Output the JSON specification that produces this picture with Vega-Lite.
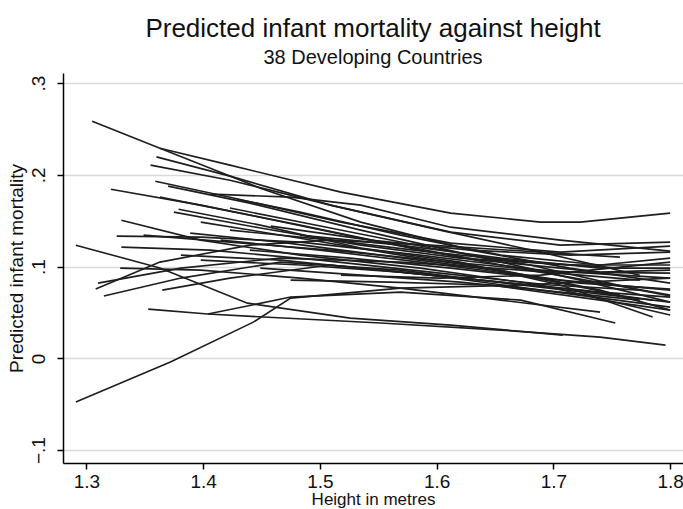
{
"$schema": "https://vega.github.io/schema/vega-lite/v6.json",
"width": 620, "height": 390,
"autosize": "none",
"padding": {"left": 63, "top": 73, "right": 0, "bottom": 46},
"background": "white",
"config": {"view": {"stroke": null}, "font": "Liberation Sans"},
"title": {"text": "Predicted infant mortality against height", "subtitle": "38 Developing Countries", "font": "Liberation Sans", "subtitleFont": "Liberation Sans", "fontSize": 26, "subtitleFontSize": 20, "fontWeight": "normal", "color": "#111", "subtitleColor": "#111", "anchor": "middle", "offset": 5, "subtitlePadding": 6},
"data": {"values": [
{"c":1,"h":1.305,"m":0.2585},{"c":1,"h":1.363,"m":0.2291},{"c":1,"h":1.449,"m":0.1855},{"c":1,"h":1.535,"m":0.1485},{"c":1,"h":1.629,"m":0.118},{"c":1,"h":1.714,"m":0.0984},{"c":1,"h":1.8,"m":0.082},
{"c":2,"h":1.363,"m":0.2291},{"c":2,"h":1.423,"m":0.2106},{"c":2,"h":1.518,"m":0.1812},{"c":2,"h":1.612,"m":0.1583},{"c":2,"h":1.689,"m":0.1485},{"c":2,"h":1.723,"m":0.1485},{"c":2,"h":1.8,"m":0.1583},
{"c":3,"h":1.36,"m":0.2196},{"c":3,"h":1.423,"m":0.1986},{"c":3,"h":1.509,"m":0.167},{"c":3,"h":1.612,"m":0.1376},{"c":3,"h":1.706,"m":0.1234},{"c":3,"h":1.8,"m":0.1267},
{"c":4,"h":1.359,"m":0.1931},{"c":4,"h":1.423,"m":0.1757},{"c":4,"h":1.518,"m":0.1485},{"c":4,"h":1.612,"m":0.1256},{"c":4,"h":1.706,"m":0.1158},{"c":4,"h":1.8,"m":0.1223},
{"c":5,"h":1.321,"m":0.1844},{"c":5,"h":1.398,"m":0.167},{"c":5,"h":1.483,"m":0.1452},{"c":5,"h":1.586,"m":0.118},{"c":5,"h":1.689,"m":0.094},{"c":5,"h":1.8,"m":0.069},
{"c":6,"h":1.37,"m":0.1877},{"c":6,"h":1.44,"m":0.1692},{"c":6,"h":1.535,"m":0.1398},{"c":6,"h":1.629,"m":0.1125},{"c":6,"h":1.723,"m":0.0853},{"c":6,"h":1.8,"m":0.0613},
{"c":7,"h":1.363,"m":0.1757},{"c":7,"h":1.44,"m":0.1561},{"c":7,"h":1.535,"m":0.131},{"c":7,"h":1.637,"m":0.1071},{"c":7,"h":1.74,"m":0.094},{"c":7,"h":1.8,"m":0.0962},
{"c":8,"h":1.407,"m":0.179},{"c":8,"h":1.475,"m":0.1757},{"c":8,"h":1.535,"m":0.167},{"c":8,"h":1.612,"m":0.143},{"c":8,"h":1.706,"m":0.1289},{"c":8,"h":1.8,"m":0.1169},
{"c":9,"h":1.379,"m":0.1626},{"c":9,"h":1.449,"m":0.1452},{"c":9,"h":1.535,"m":0.1202},{"c":9,"h":1.62,"m":0.1049},{"c":9,"h":1.706,"m":0.0799},{"c":9,"h":1.785,"m":0.045},
{"c":10,"h":1.375,"m":0.1594},{"c":10,"h":1.449,"m":0.142},{"c":10,"h":1.535,"m":0.1234},{"c":10,"h":1.62,"m":0.1093},{"c":10,"h":1.714,"m":0.1017},{"c":10,"h":1.8,"m":0.1017},
{"c":11,"h":1.33,"m":0.1506},{"c":11,"h":1.398,"m":0.1289},{"c":11,"h":1.483,"m":0.1125},{"c":11,"h":1.586,"m":0.0984},{"c":11,"h":1.689,"m":0.0799},{"c":11,"h":1.8,"m":0.0472},
{"c":12,"h":1.326,"m":0.1332},{"c":12,"h":1.398,"m":0.1321},{"c":12,"h":1.483,"m":0.1267},{"c":12,"h":1.586,"m":0.1125},{"c":12,"h":1.689,"m":0.0962},{"c":12,"h":1.8,"m":0.0875},
{"c":13,"h":1.389,"m":0.1365},{"c":13,"h":1.466,"m":0.1267},{"c":13,"h":1.552,"m":0.1125},{"c":13,"h":1.637,"m":0.0984},{"c":13,"h":1.723,"m":0.082},{"c":13,"h":1.8,"m":0.0755},
{"c":14,"h":1.33,"m":0.1212},{"c":14,"h":1.406,"m":0.118},{"c":14,"h":1.5,"m":0.1071},{"c":14,"h":1.595,"m":0.094},{"c":14,"h":1.697,"m":0.0799},{"c":14,"h":1.774,"m":0.0744},
{"c":15,"h":1.291,"m":0.1234},{"c":15,"h":1.363,"m":0.0984},{"c":15,"h":1.438,"m":0.0602},{"c":15,"h":1.526,"m":0.0439},{"c":15,"h":1.612,"m":0.0363},{"c":15,"h":1.708,"m":0.0254},
{"c":16,"h":1.349,"m":0.1343},{"c":16,"h":1.423,"m":0.1267},{"c":16,"h":1.509,"m":0.118},{"c":16,"h":1.612,"m":0.1049},{"c":16,"h":1.706,"m":0.094},{"c":16,"h":1.8,"m":0.0929},
{"c":17,"h":1.308,"m":0.0755},{"c":17,"h":1.363,"m":0.1049},{"c":17,"h":1.44,"m":0.1234},{"c":17,"h":1.509,"m":0.1289},{"c":17,"h":1.595,"m":0.1234},{"c":17,"h":1.689,"m":0.1158},{"c":17,"h":1.757,"m":0.1103},
{"c":18,"h":1.31,"m":0.082},{"c":18,"h":1.381,"m":0.0984},{"c":18,"h":1.466,"m":0.1093},{"c":18,"h":1.569,"m":0.1049},{"c":18,"h":1.672,"m":0.0962},{"c":18,"h":1.774,"m":0.0853},
{"c":19,"h":1.315,"m":0.0679},{"c":19,"h":1.381,"m":0.0875},{"c":19,"h":1.466,"m":0.1049},{"c":19,"h":1.569,"m":0.0962},{"c":19,"h":1.672,"m":0.0799},{"c":19,"h":1.8,"m":0.0613},
{"c":20,"h":1.365,"m":0.0744},{"c":20,"h":1.423,"m":0.0875},{"c":20,"h":1.509,"m":0.1017},{"c":20,"h":1.595,"m":0.0907},{"c":20,"h":1.689,"m":0.0744},{"c":20,"h":1.8,"m":0.0559},
{"c":21,"h":1.353,"m":0.0537},{"c":21,"h":1.404,"m":0.0483},{"c":21,"h":1.552,"m":0.0385},{"c":21,"h":1.655,"m":0.0308},{"c":21,"h":1.74,"m":0.0232},{"c":21,"h":1.796,"m":0.0145},
{"c":22,"h":1.291,"m":-0.0475},{"c":22,"h":1.372,"m":-0.004},{"c":22,"h":1.443,"m":0.0395},{"c":22,"h":1.475,"m":0.0657},{"c":22,"h":1.569,"m":0.0766},{"c":22,"h":1.672,"m":0.0799},{"c":22,"h":1.8,"m":0.0875},
{"c":23,"h":1.429,"m":0.1735},{"c":23,"h":1.483,"m":0.1594},{"c":23,"h":1.569,"m":0.1343},{"c":23,"h":1.655,"m":0.1125},{"c":23,"h":1.74,"m":0.1017},{"c":23,"h":1.8,"m":0.1093},
{"c":24,"h":1.404,"m":0.0483},{"c":24,"h":1.475,"m":0.0668},{"c":24,"h":1.569,"m":0.0722},{"c":24,"h":1.672,"m":0.0635},{"c":24,"h":1.753,"m":0.0385},
{"c":25,"h":1.398,"m":0.1485},{"c":25,"h":1.483,"m":0.131},{"c":25,"h":1.569,"m":0.1125},{"c":25,"h":1.655,"m":0.0962},{"c":25,"h":1.74,"m":0.0744},{"c":25,"h":1.8,"m":0.0526},
{"c":26,"h":1.415,"m":0.1289},{"c":26,"h":1.5,"m":0.118},{"c":26,"h":1.586,"m":0.1049},{"c":26,"h":1.672,"m":0.0907},{"c":26,"h":1.757,"m":0.069},
{"c":27,"h":1.44,"m":0.118},{"c":27,"h":1.526,"m":0.1093},{"c":27,"h":1.612,"m":0.0984},{"c":27,"h":1.706,"m":0.0853},{"c":27,"h":1.8,"m":0.0744},
{"c":28,"h":1.381,"m":0.1125},{"c":28,"h":1.466,"m":0.1071},{"c":28,"h":1.552,"m":0.0962},{"c":28,"h":1.637,"m":0.0853},{"c":28,"h":1.723,"m":0.0744},{"c":28,"h":1.785,"m":0.0635},
{"c":29,"h":1.423,"m":0.1638},{"c":29,"h":1.509,"m":0.142},{"c":29,"h":1.595,"m":0.1202},{"c":29,"h":1.68,"m":0.1017},{"c":29,"h":1.774,"m":0.0744},{"c":29,"h":1.8,"m":0.0679},
{"c":30,"h":1.449,"m":0.0984},{"c":30,"h":1.535,"m":0.0907},{"c":30,"h":1.62,"m":0.0831},{"c":30,"h":1.706,"m":0.0722},{"c":30,"h":1.774,"m":0.0635},
{"c":31,"h":1.483,"m":0.1343},{"c":31,"h":1.569,"m":0.1234},{"c":31,"h":1.655,"m":0.1093},{"c":31,"h":1.74,"m":0.0984},{"c":31,"h":1.8,"m":0.0984},
{"c":32,"h":1.475,"m":0.0853},{"c":32,"h":1.56,"m":0.0831},{"c":32,"h":1.646,"m":0.0799},{"c":32,"h":1.74,"m":0.0635},{"c":32,"h":1.8,"m":0.0526},
{"c":33,"h":1.518,"m":0.0907},{"c":33,"h":1.603,"m":0.0875},{"c":33,"h":1.689,"m":0.0907},{"c":33,"h":1.8,"m":0.1049},
{"c":34,"h":1.458,"m":0.1441},{"c":34,"h":1.543,"m":0.1289},{"c":34,"h":1.629,"m":0.118},{"c":34,"h":1.714,"m":0.1125},{"c":34,"h":1.8,"m":0.1158},
{"c":35,"h":1.355,"m":0.2106},{"c":35,"h":1.423,"m":0.1942},{"c":35,"h":1.509,"m":0.167},{"c":35,"h":1.603,"m":0.1398},{"c":35,"h":1.689,"m":0.1158},{"c":35,"h":1.774,"m":0.0907},
{"c":36,"h":1.329,"m":0.0984},{"c":36,"h":1.398,"m":0.0962},{"c":36,"h":1.483,"m":0.0875},{"c":36,"h":1.569,"m":0.0766},{"c":36,"h":1.655,"m":0.0635},{"c":36,"h":1.74,"m":0.0504},
{"c":37,"h":1.423,"m":0.1398},{"c":37,"h":1.509,"m":0.1289},{"c":37,"h":1.595,"m":0.1158},{"c":37,"h":1.68,"m":0.1049},{"c":37,"h":1.757,"m":0.0984},
{"c":38,"h":1.398,"m":0.1071},{"c":38,"h":1.483,"m":0.1017},{"c":38,"h":1.569,"m":0.094},{"c":38,"h":1.655,"m":0.0831},{"c":38,"h":1.74,"m":0.0722},{"c":38,"h":1.8,"m":0.0668}
]},
"mark": {"type": "line", "color": "#1e1e1e", "strokeWidth": 1.6},
"encoding": {
  "x": {"field": "h", "type": "quantitative",
    "scale": {"domain": [1.28, 1.811], "nice": false, "zero": false},
    "axis": {"values": [1.3, 1.4, 1.5, 1.6, 1.7, 1.8], "format": ".1f", "title": "Height in metres", "grid": false,
      "domainColor": "#000", "domainWidth": 1.5, "tickColor": "#000", "tickWidth": 1.5, "tickSize": 6,
      "labelFontSize": 19, "labelColor": "#111", "labelPadding": 3, "labelFont": "Liberation Sans", "labelOverlap": false, "labelBound": false,
      "titleFontSize": 17, "titleFontWeight": "normal", "titleColor": "#111", "titlePadding": 0, "titleFont": "Liberation Sans"}},
  "y": {"field": "m", "type": "quantitative",
    "scale": {"domain": [-0.114, 0.311], "nice": false, "zero": false},
    "axis": {"values": [-0.1, 0, 0.1, 0.2, 0.3], "labelExpr": "datum.value == 0 ? '0' : replace(format(datum.value, '.1f'), '0.', '.')",
      "title": "Predicted infant mortality", "grid": true, "gridColor": "#d9d9d9", "gridWidth": 1.5,
      "domainColor": "#000", "domainWidth": 1.5, "tickColor": "#000", "tickWidth": 1.5, "tickSize": 6,
      "labelFontSize": 19, "labelColor": "#111", "labelAngle": 270, "labelAlign": "center", "labelBaseline": "bottom", "labelPadding": 9, "labelFont": "Liberation Sans",
      "titleFontSize": 19, "titleFontWeight": "normal", "titleColor": "#111", "titlePadding": 3, "titleFont": "Liberation Sans"}},
  "detail": {"field": "c", "type": "nominal"}
}
}
